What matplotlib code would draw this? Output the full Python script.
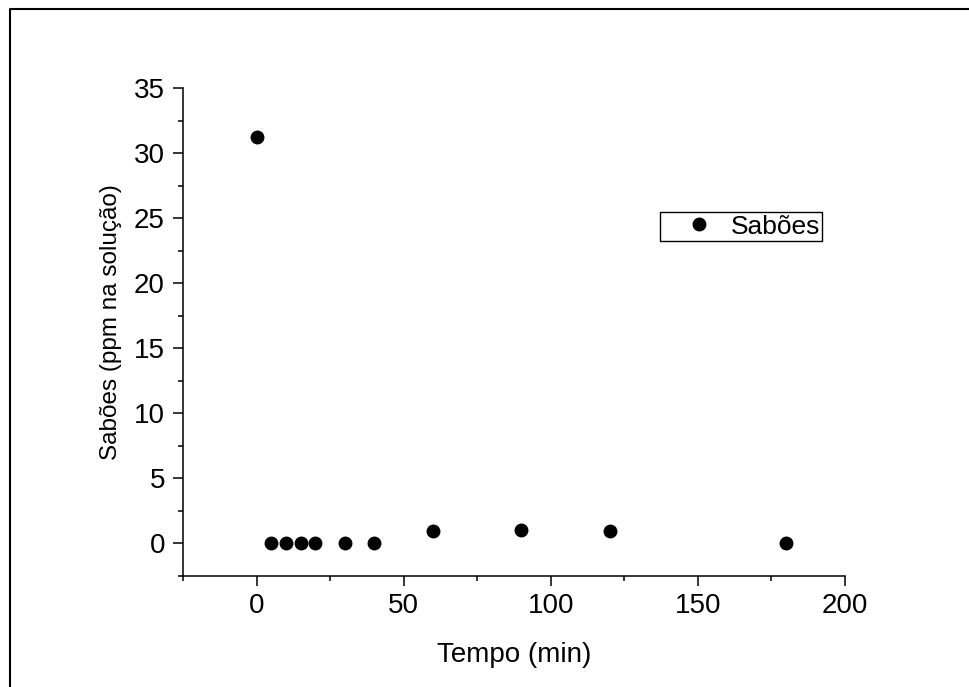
import matplotlib
matplotlib.use("Agg")
import matplotlib.pyplot as plt
from matplotlib.lines import Line2D
from matplotlib.ticker import MultipleLocator

# data
tempo_min = [0, 5, 10, 15, 20, 30, 40, 60, 90, 120, 180]
saboes_ppm = [31.2, 0, 0, 0, 0, 0, 0, 0.92, 1.07, 0.93, 0]

plt.rcParams['font.family'] = ['Liberation Sans', 'DejaVu Sans']
plt.rcParams['font.size'] = 20

fig = plt.figure(figsize=(9.7, 6.87), dpi=100)
ax = fig.add_axes([183 / 970, 1 - 576 / 687, (845 - 183) / 970, (576 - 88) / 687])

ax.plot(tempo_min, saboes_ppm, 'o', color='black', markersize=9, label='Sabões')

ax.set_xlim(-25, 200)
ax.set_ylim(-2.5, 35)
ax.xaxis.set_major_locator(MultipleLocator(50))
ax.xaxis.set_minor_locator(MultipleLocator(25))
ax.yaxis.set_major_locator(MultipleLocator(5))
ax.yaxis.set_minor_locator(MultipleLocator(2.5))

for side in ['top', 'right']:
    ax.spines[side].set_visible(False)
for side in ['left', 'bottom']:
    ax.spines[side].set_linewidth(1.1)

ax.tick_params(which='major', direction='out', length=7, width=1.1, pad=5)
ax.tick_params(axis='y', which='major', pad=6)
ax.tick_params(which='minor', direction='out', length=3.6, width=1.1)

ax.set_xlabel('Tempo (min)', labelpad=17)
ax.set_ylabel('Sabões (ppm na solução)', fontsize=17.5)
ax.yaxis.set_label_coords(-0.092, 0.52)

leg = ax.legend(loc='upper left', bbox_to_anchor=(0.72, 0.745), borderaxespad=0,
                fancybox=False, edgecolor='black', framealpha=1, fontsize=19,
                borderpad=0.08, handlelength=2.85, handletextpad=-0.23)
leg.get_frame().set_linewidth(1.0)

# outer frame (only left and top edges visible in the reference)
fig.add_artist(Line2D([10 / 970, 10 / 970, 1.0], [0.0, 1 - 9 / 687, 1 - 9 / 687],
                      transform=fig.transFigure, color='black', linewidth=1.5))

fig.savefig('out.png', dpi=100, facecolor='w')
